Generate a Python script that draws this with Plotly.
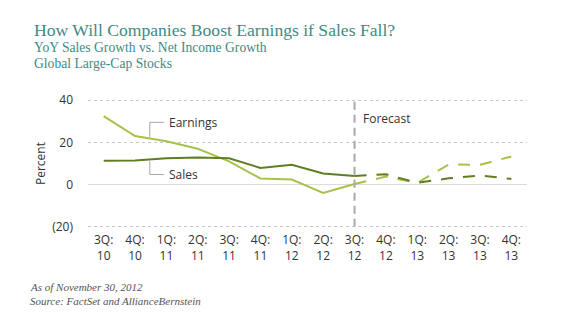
import plotly.graph_objects as go

quarters = ["3Q:<br>10", "4Q:<br>10", "1Q:<br>11", "2Q:<br>11", "3Q:<br>11", "4Q:<br>11",
            "1Q:<br>12", "2Q:<br>12", "3Q:<br>12", "4Q:<br>12", "1Q:<br>13", "2Q:<br>13",
            "3Q:<br>13", "4Q:<br>13"]
earnings = [32.5, 23.0, 20.5, 17.0, 11.0, 2.9, 2.4, -4.0, 0.3, 3.8, 0.8, 9.5, 9.4, 13.3]
sales = [11.3, 11.4, 12.5, 12.8, 12.5, 7.9, 9.4, 5.3, 4.1, 4.9, 0.8, 3.0, 4.3, 2.7]
forecast_start = 8  # index of 3Q:12
y_ticks = [-20, 0, 20, 40]
y_tick_text = ["(20)", "0", "20", "40"]

EARN_C = "#a5c34a"
SALES_C = "#5f7d22"
TEAL = "#3f8a85"
TXT = "#333333"
SANS = "Open Sans"
SERIF = "Liberation Serif"

W, H = 580, 330
ML, MR, MT, MB = 88, 53, 96, 99
PW, PH = W - ML - MR, H - MT - MB

xs = list(range(len(quarters)))
fig = go.Figure()

# actuals solid, forecast dashed
for vals, color in [(earnings, EARN_C), (sales, SALES_C)]:
    fig.add_trace(go.Scatter(x=xs[:forecast_start + 1], y=vals[:forecast_start + 1],
                             mode="lines", line=dict(color=color, width=2),
                             showlegend=False, hoverinfo="skip"))
    fig.add_trace(go.Scatter(x=xs[forecast_start:], y=vals[forecast_start:],
                             mode="lines", line=dict(color=color, width=2, dash="12px,10px"),
                             showlegend=False, hoverinfo="skip"))

# forecast divider
fig.add_shape(type="line", x0=forecast_start, x1=forecast_start, y0=-20, y1=40,
              xref="x", yref="y", line=dict(color="#a8a8a8", width=2, dash="8px,5px"))
fig.add_annotation(x=forecast_start + 0.2, y=31.5, text="Forecast", showarrow=False,
                   xanchor="left", font=dict(family=SANS, size=12, color=TXT))

# leader brackets for the series labels
lc = dict(color="#a8a8a8", width=1)
bx = 1.47
fig.add_shape(type="line", x0=bx, x1=bx + 0.45, y0=29.5, y1=29.5, line=lc)
fig.add_shape(type="line", x0=bx, x1=bx, y0=29.5, y1=22.5, line=lc)
fig.add_shape(type="line", x0=bx, x1=bx + 0.45, y0=4.8, y1=4.8, line=lc)
fig.add_shape(type="line", x0=bx, x1=bx, y0=4.8, y1=11.4, line=lc)
fig.add_annotation(x=bx + 0.55, y=29.5, text="Earnings", showarrow=False, xanchor="left",
                   font=dict(family=SANS, size=12, color=TXT))
fig.add_annotation(x=bx + 0.55, y=4.8, text="Sales", showarrow=False, xanchor="left",
                   font=dict(family=SANS, size=12, color=TXT))

# heading block
head = [("How Will Companies Boost Earnings if Sales Fall?", 17.6, 30),
        ("YoY Sales Growth vs. Net Income Growth", 13.6, 47),
        ("Global Large-Cap Stocks", 13.6, 63)]
for text, size, ypx in head:
    fig.add_annotation(xref="paper", yref="paper", x=(32 - ML) / PW,
                       y=1 + (MT - ypx) / PH, xanchor="left", yanchor="middle",
                       text=text, showarrow=False, font=dict(family=SERIF, size=size, color=TEAL))

# footnotes
notes = [("As of November 30, 2012", 287), ("Source: FactSet and AllianceBernstein", 301)]
for text, ypx in notes:
    fig.add_annotation(xref="paper", yref="paper", x=(28 - ML) / PW,
                       y=(H - MB - ypx) / PH, xanchor="left", yanchor="middle",
                       text=f"<i>{text}</i>", showarrow=False,
                       font=dict(family=SERIF, size=11, color="#555555"))

fig.update_layout(
    width=W, height=H,
    margin=dict(l=ML, r=MR, t=MT, b=MB),
    paper_bgcolor="white", plot_bgcolor="white",
    font=dict(family=SANS, size=12, color=TXT),
    xaxis=dict(range=[-0.5, 13.5], tickmode="array", tickvals=xs, ticktext=quarters,
               showgrid=False, zeroline=False, showline=False, ticks="",
               tickfont=dict(size=12, color=TXT)),
    yaxis=dict(range=[-22, 42], tickmode="array", tickvals=y_ticks, ticktext=y_tick_text,
               showgrid=True, gridcolor="#c8c8c8", griddash="dot", gridwidth=1,
               zeroline=True, zerolinecolor="#dcdcdc", zerolinewidth=1,
               showline=False, ticks="", ticklabelstandoff=14,
               title=dict(text="Percent", standoff=3, font=dict(size=12, color=TXT))),
)

fig.write_html("out.html")
